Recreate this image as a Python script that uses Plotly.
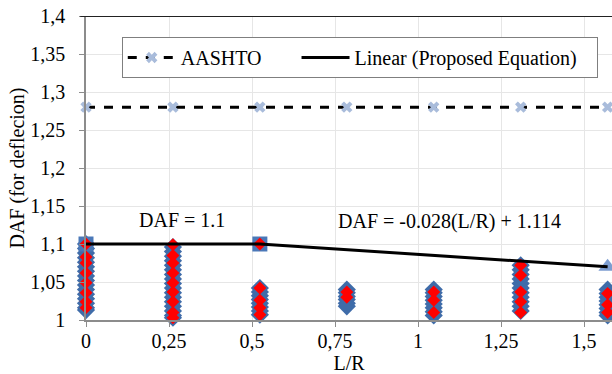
import plotly.graph_objects as go

# ---- data ----
lr_cols = [0.0, 0.2618, 0.5236, 0.7854, 1.0472, 1.3090, 1.5708]

blue_vals = [
    [1.10, 1.094, 1.088, 1.082, 1.076, 1.070, 1.064, 1.058, 1.052, 1.046, 1.040, 1.034, 1.028, 1.022, 1.016, 1.013],
    [1.096, 1.090, 1.084, 1.078, 1.072, 1.066, 1.060, 1.054, 1.048, 1.042, 1.036, 1.030, 1.024, 1.018, 1.012, 1.006, 1.003],
    [1.042, 1.037, 1.032, 1.027, 1.022, 1.017, 1.012, 1.007],
    [1.040, 1.036, 1.031, 1.027, 1.022, 1.018],
    [1.040, 1.036, 1.031, 1.026, 1.021, 1.016, 1.011, 1.006],
    [1.072, 1.066, 1.060, 1.054, 1.048, 1.042, 1.036, 1.030, 1.024, 1.018, 1.012],
    [1.040, 1.035, 1.030, 1.025, 1.020, 1.015, 1.010, 1.006],
]
red_vals = [
    [1.100, 1.083, 1.075, 1.062, 1.049, 1.036, 1.024, 1.016],
    [1.099, 1.085, 1.075, 1.062, 1.049, 1.037, 1.024, 1.010, 1.003],
    [1.100, 1.042, 1.026, 1.016, 1.007],
    [1.037, 1.030],
    [1.037, 1.026, 1.010],
    [1.072, 1.059, 1.037, 1.024, 1.010],
    [1.035, 1.020, 1.010],
]
max_square_x = [0.0, 0.5236]
max_square_y = [1.10, 1.10]
max_tri_x = [1.5708]
max_tri_y = [1.07]

aashto_y = 1.28
prop_x = [0.0, 0.5236, 1.5708]
prop_y = [1.10, 1.10, 1.114 - 0.028 * 1.5708]

y_ticks = [1.0, 1.05, 1.1, 1.15, 1.2, 1.25, 1.3, 1.35, 1.4]
y_tick_text = ["1", "1,05", "1,1", "1,15", "1,2", "1,25", "1,3", "1,35", "1,4"]
x_ticks = [0, 0.25, 0.5, 0.75, 1.0, 1.25, 1.5]
x_tick_text = ["0", "0,25", "0,5", "0,75", "1", "1,25", "1,5"]

FONT = "Liberation Serif"
BLUE = "#3f6ca9"
NB = "\u00a0"

fig = go.Figure()

bx, by = [], []
for x, vals in zip(lr_cols, blue_vals):
    bx += [x] * len(vals)
    by += vals
fig.add_trace(go.Scatter(x=bx, y=by, mode="markers", showlegend=False, cliponaxis=False,
                         marker=dict(symbol="diamond", size=14, color=BLUE,
                                     line=dict(width=0))))

fig.add_trace(go.Scatter(x=max_square_x, y=max_square_y, mode="markers", showlegend=False,
                         cliponaxis=False,
                         marker=dict(symbol="square", size=15, color="#4a78b8")))
fig.add_trace(go.Scatter(x=max_tri_x, y=max_tri_y, mode="markers", showlegend=False,
                         cliponaxis=False,
                         marker=dict(symbol="triangle-up", size=16, color="#7d9dd0")))

rx, ry = [], []
for x, vals in zip(lr_cols, red_vals):
    rx += [x] * len(vals)
    ry += vals
fig.add_trace(go.Scatter(x=rx, y=ry, mode="markers", showlegend=False, cliponaxis=False,
                         marker=dict(symbol="diamond", size=10, color="#ff0000")))

fig.add_trace(go.Scatter(x=lr_cols, y=[aashto_y] * len(lr_cols), mode="lines+markers",
                         name="AASHTO" + NB * 6, cliponaxis=False,
                         line=dict(color="black", width=3, dash="dash"),
                         marker=dict(symbol="x", size=10, color="#a9bcdb")))

fig.add_trace(go.Scatter(x=prop_x, y=prop_y, mode="lines",
                         name="Linear (Proposed Equation)" + NB * 3,
                         cliponaxis=False, line=dict(color="black", width=3)))

fig.add_annotation(x=0.289, y=1.1316, text="DAF = 1.1", showarrow=False,
                   font=dict(family=FONT, size=20, color="black"))
fig.add_annotation(x=1.096, y=1.129, text="DAF = -0.028(L/R) + 1.114", showarrow=False,
                   font=dict(family=FONT, size=20, color="black"))

fig.add_shape(type="line", xref="paper", yref="y", x0=-0.011, x1=1, y0=1.4, y1=1.4,
              line=dict(color="#222222", width=2))

fig.update_layout(
    width=612, height=374,
    margin=dict(l=86, r=0, t=16, b=54),
    paper_bgcolor="white", plot_bgcolor="white",
    font=dict(family=FONT, size=20, color="black"),
    legend=dict(orientation="h", x=0.068, y=0.931, xanchor="left", yanchor="top",
                bordercolor="#7f7f7f", borderwidth=1, bgcolor="white",
                font=dict(family=FONT, size=20, color="black"),
                itemwidth=48, tracegroupgap=0),
    xaxis=dict(range=[0, 1.584], tickvals=x_ticks, ticktext=x_tick_text,
               showgrid=True, gridcolor="#e6e6e6", gridwidth=1,
               showline=True, linecolor="#8c8c8c", linewidth=1.5,
               ticks="outside", ticklen=5, tickcolor="#8c8c8c",
               zeroline=False, ticklabelstandoff=-3,
               title=dict(text="L/R", font=dict(family=FONT, size=20), standoff=8),
               tickfont=dict(family=FONT, size=20)),
    yaxis=dict(range=[1.0, 1.4], tickvals=y_ticks, ticktext=y_tick_text,
               showgrid=True, gridcolor="#e6e6e6", gridwidth=1,
               showline=True, linecolor="#8c8c8c", linewidth=1.5,
               ticks="outside", ticklen=5, tickcolor="#8c8c8c",
               zeroline=False, ticklabelstandoff=10,
               title=dict(text="DAF (for deflecion)", font=dict(family=FONT, size=20), standoff=0),
               tickfont=dict(family=FONT, size=20)),
)

fig.write_html("out.html", config={"displayModeBar": False},
               post_script="document.body.style.margin='0';document.body.style.overflow='hidden';")
